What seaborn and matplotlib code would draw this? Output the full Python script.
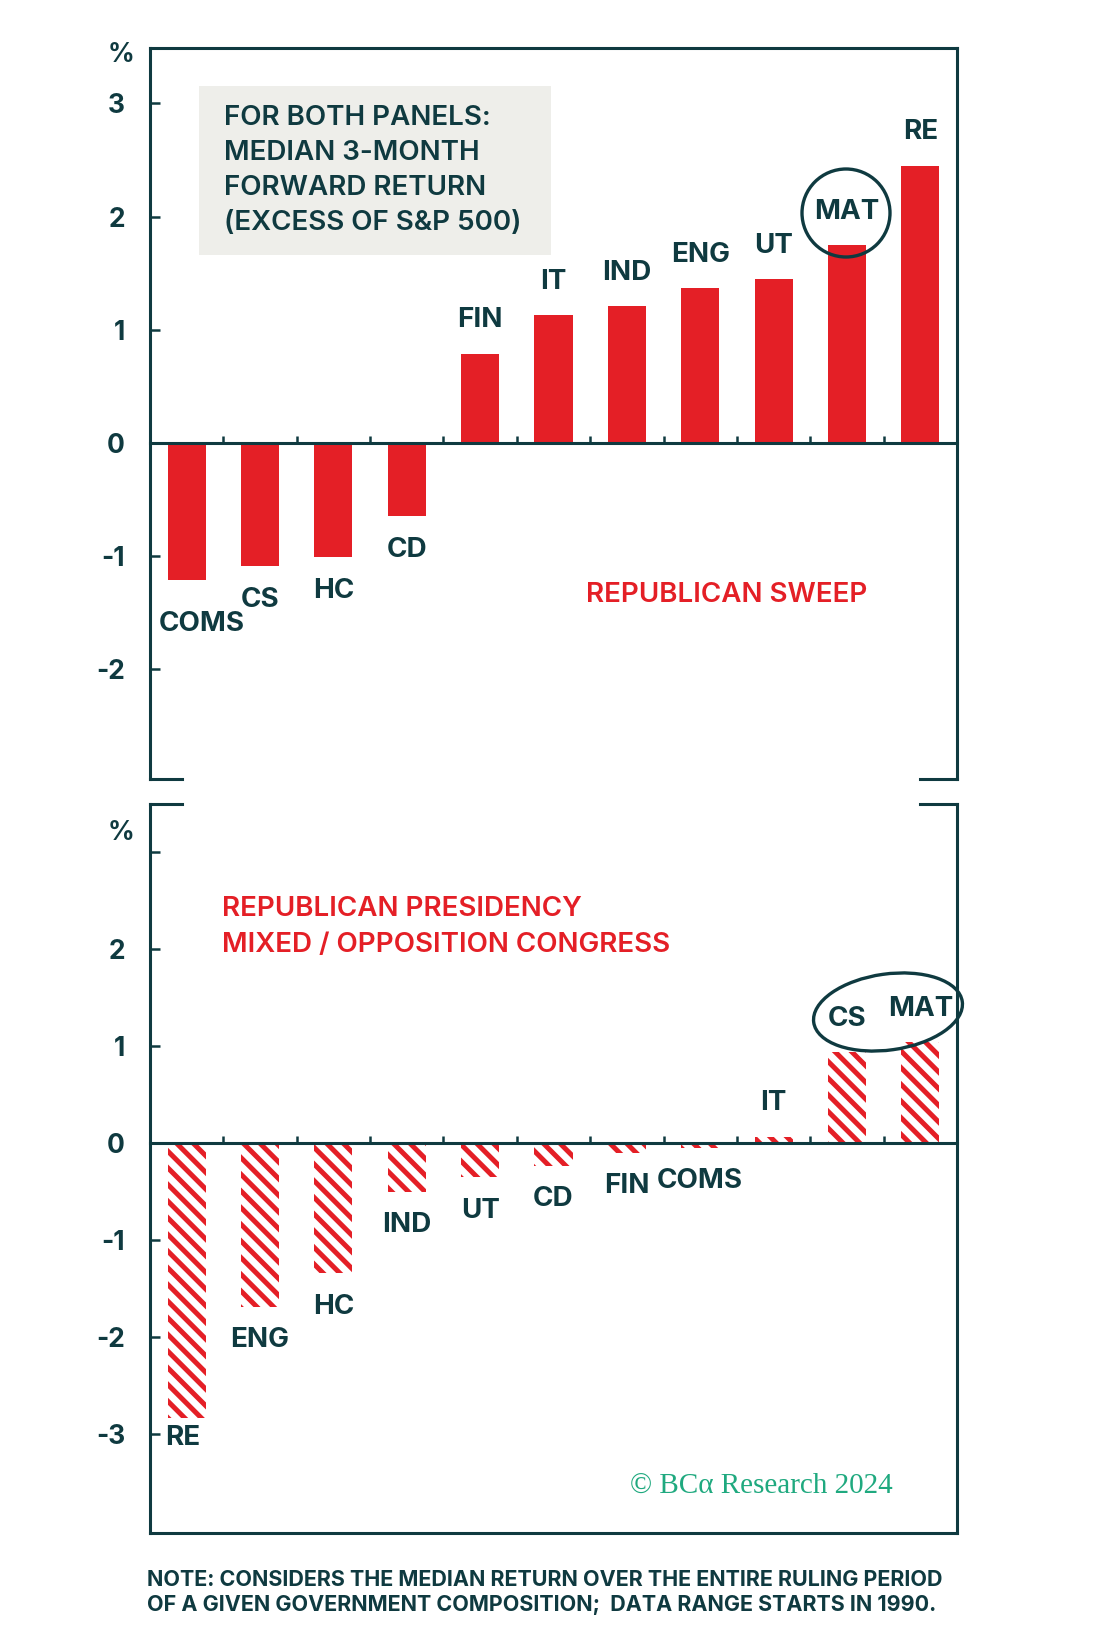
import matplotlib
matplotlib.use("Agg")
import matplotlib.pyplot as plt
from matplotlib.patches import Ellipse, Rectangle
from matplotlib import font_manager
import seaborn as sns
import pandas as pd

# median 3-month forward return, excess of S&P 500 (%)
sweep_sectors = ['COMS', 'CS', 'HC', 'CD', 'FIN', 'IT', 'IND', 'ENG', 'UT', 'MAT', 'RE']
sweep_values = [-1.21, -1.09, -1.01, -0.65, 0.79, 1.13, 1.21, 1.37, 1.45, 1.75, 2.45]

mixed_sectors = ['RE', 'ENG', 'HC', 'IND', 'UT', 'CD', 'FIN', 'COMS', 'IT', 'CS', 'MAT']
mixed_values = [-2.83, -1.69, -1.34, -0.50, -0.35, -0.23, -0.10, -0.05, 0.07, 0.94, 1.04]

top_yticks = [-2, -1, 0, 1, 2, 3]
top_yticklabels = ['-2', '-1', '0', '1', '2', '3']
bottom_yticks = [-3, -2, -1, 0, 1, 2, 3]
bottom_yticklabels = ['-3', '-2', '-1', '0', '1', '2', '']

RED = '#e41f26'
DARK = '#0f3a40'
GREY = '#eeeeea'
GREEN = '#1fa97f'

W, H = 1113, 1646

sns.set_theme(style='white')
installed = {f.name for f in font_manager.fontManager.ttflist}
main_font = 'Inter' if 'Inter' in installed else 'Lato'
plt.rcParams['font.family'] = [main_font, 'DejaVu Sans']
plt.rcParams['axes.unicode_minus'] = False
plt.rcParams['hatch.linewidth'] = 3.6
narrow = 'Liberation Sans Narrow' if 'Liberation Sans Narrow' in installed else main_font
FS = 20


def fx(x):
    return x / W


def fy(y):
    return 1 - y / H


def style_axes(ax, ylim, yticks, yticklabels):
    ax.set_xlim(-0.5, 10.5)
    ax.set_ylim(ylim)
    for s in ax.spines.values():
        s.set_color(DARK)
        s.set_linewidth(2.2)
    ax.spines['bottom'].set_position(('data', 0))
    ax.set_xticks([i + 0.5 for i in range(10)])
    ax.set_xticklabels([])
    ax.tick_params(axis='x', direction='in', length=5, width=1.8, color=DARK,
                   labelbottom=False, bottom=True)
    ax.set_yticks(yticks)
    ax.set_yticklabels(yticklabels)
    ax.tick_params(axis='y', direction='in', length=7, width=1.8, color=DARK,
                   pad=18, labelsize=19, labelcolor=DARK, left=True)
    for lab in ax.get_yticklabels():
        lab.set_fontweight('bold')
    ax.set_xlabel('')
    ax.set_ylabel('')
    ax.grid(False)


def label_bars(ax, sectors, values, tweaks):
    for i, (name, v) in enumerate(zip(sectors, values)):
        dx, dy = tweaks.get(name, (0, 0))
        off = 24 if v >= 0 else -24
        ax.annotate(name, (i, v), xytext=(dx, off + dy), textcoords='offset points',
                    ha='center', va='center', fontsize=FS, fontweight='bold',
                    color=DARK, annotation_clip=False)


fig = plt.figure(figsize=(W / 100, H / 100), dpi=100)
ax1 = fig.add_axes([fx(150), fy(779), 807 / W, 731 / H])
ax2 = fig.add_axes([fx(150), fy(1533), 807 / W, 729 / H])

# top panel: republican sweep
df_sweep = pd.DataFrame({'sector': sweep_sectors, 'ret': sweep_values})
sns.barplot(data=df_sweep, x='sector', y='ret', color=RED, saturation=1,
            width=0.52, ax=ax1)
for p in ax1.patches:
    p.set_linewidth(0)
style_axes(ax1, (-2.97, 3.49), top_yticks, top_yticklabels)
label_bars(ax1, sweep_sectors, sweep_values, {'COMS': (11, -8)})
ax1.plot([0, 0.040], [0, 0], transform=ax1.transAxes, color=DARK, lw=2.2,
         clip_on=False, solid_capstyle='projecting')
ax1.plot([0.954, 1], [0, 0], transform=ax1.transAxes, color=DARK, lw=2.2,
         clip_on=False, solid_capstyle='projecting')

# bottom panel: republican presidency, mixed / opposition congress
df_mixed = pd.DataFrame({'sector': mixed_sectors, 'ret': mixed_values})
sns.barplot(data=df_mixed, x='sector', y='ret', color=RED, saturation=1,
            width=0.52, ax=ax2)
for p in ax2.patches:
    p.set_facecolor('white')
    p.set_edgecolor(RED)
    p.set_linewidth(0)
    p.set_hatch('\\\\')
style_axes(ax2, (-4.02, 3.5), bottom_yticks, bottom_yticklabels)
ax2.spines['top'].set_visible(False)
label_bars(ax2, mixed_sectors, mixed_values, {'RE': (-3, 9)})
ax2.plot([0, 1], [0, 0], transform=ax2.transAxes, color=DARK, lw=2.2,
         clip_on=False, solid_capstyle='projecting')
ax2.plot([0, 0.040], [1, 1], transform=ax2.transAxes, color=DARK, lw=2.2,
         clip_on=False, solid_capstyle='projecting')
ax2.plot([0.954, 1], [1, 1], transform=ax2.transAxes, color=DARK, lw=2.2,
         clip_on=False, solid_capstyle='projecting')

# percent markers
fig.text(fx(121), fy(55), '%', ha='center', va='center', fontsize=19,
         fontweight='bold', color=DARK)
fig.text(fx(121), fy(833), '%', ha='center', va='center', fontsize=19,
         fontweight='bold', color=DARK)

# note box
fig.patches.append(Rectangle((fx(199), fy(255)), (551 - 199) / W, (255 - 86) / H,
                             transform=fig.transFigure, facecolor=GREY,
                             edgecolor='none', zorder=0.5))
box_lines = ['FOR BOTH PANELS:', 'MEDIAN 3-MONTH', 'FORWARD RETURN',
             '(EXCESS OF S&P 500)']
for k, line in enumerate(box_lines):
    fig.text(fx(224), fy(118 + 35 * k), line, ha='left', va='center',
             fontsize=FS, fontweight='semibold', color=DARK)

# panel titles
fig.text(fx(586), fy(595), 'REPUBLICAN SWEEP', ha='left', va='center',
         fontsize=FS, fontweight='semibold', color=RED)
fig.text(fx(222), fy(909), 'REPUBLICAN PRESIDENCY', ha='left', va='center',
         fontsize=FS, fontweight='semibold', color=RED)
fig.text(fx(222), fy(945), 'MIXED / OPPOSITION CONGRESS', ha='left', va='center',
         fontsize=FS, fontweight='semibold', color=RED)

# highlight rings
fig.patches.append(Ellipse((846 / 100, (H - 213) / 100), 0.88, 0.88,
                           transform=fig.dpi_scale_trans, facecolor='none',
                           edgecolor=DARK, lw=2.4))
fig.patches.append(Ellipse((888 / 100, (H - 1012) / 100), 1.50, 0.76, angle=8,
                           transform=fig.dpi_scale_trans, facecolor='none',
                           edgecolor=DARK, lw=2.4))

# source and footnote
fig.text(fx(761), fy(1486), '\u00a9 BC\u03b1 Research 2024', ha='center', va='center',
         fontsize=21, color=GREEN, family=['Liberation Serif', 'DejaVu Serif'])
note1 = fig.text(fx(147), fy(1580), 'NOTE: CONSIDERS THE MEDIAN RETURN OVER THE ENTIRE RULING PERIOD',
                 ha='left', va='center', fontsize=13, fontweight='bold', color=DARK,
                 family=[narrow, 'DejaVu Sans'])
note2 = fig.text(fx(147), fy(1605), 'OF A GIVEN GOVERNMENT COMPOSITION;  DATA RANGE STARTS IN 1990.',
                 ha='left', va='center', fontsize=13, fontweight='bold', color=DARK,
                 family=[narrow, 'DejaVu Sans'])
# fit the first note line to its width in the original
fig.canvas.draw()
w = note1.get_window_extent().width
scale = 801 / w
note1.set_fontsize(13 * scale)
note2.set_fontsize(13 * scale)

fig.savefig('out.png', dpi=100)
